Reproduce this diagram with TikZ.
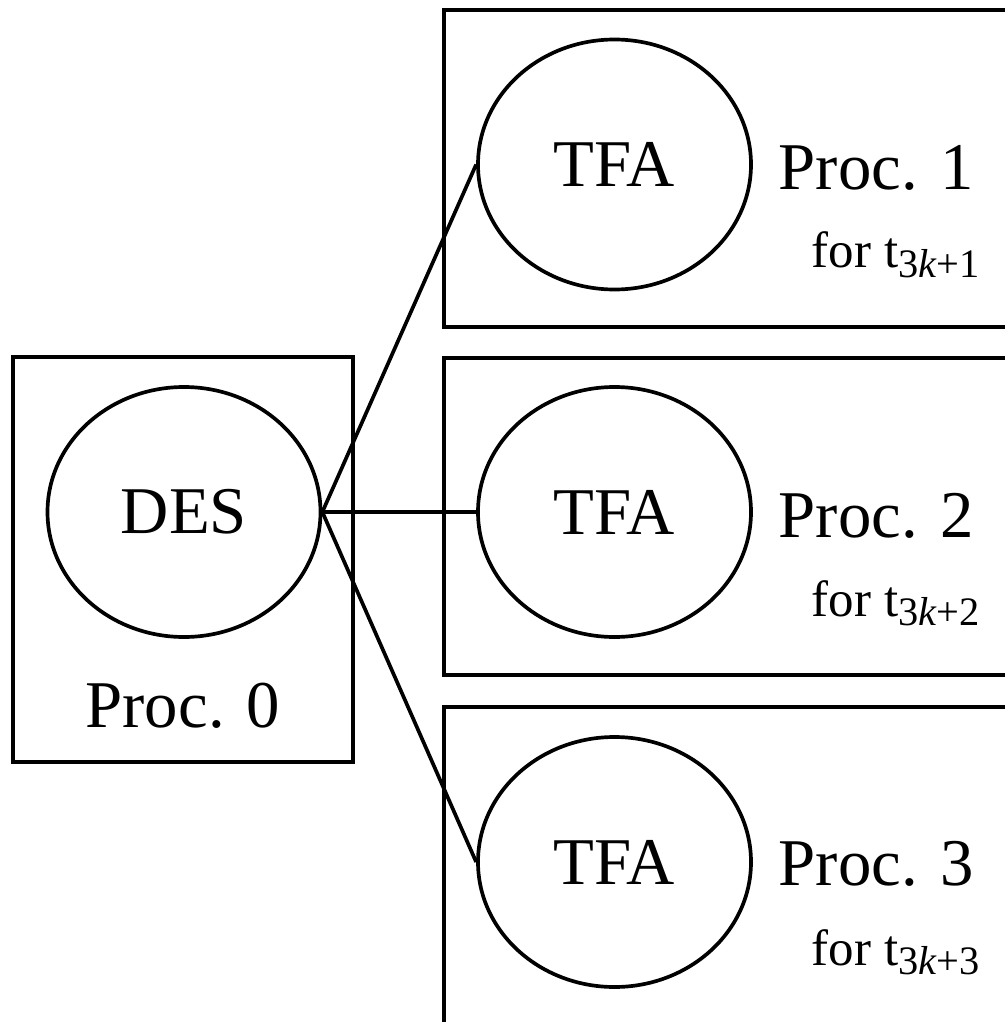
\documentclass[tikz,border=0pt]{standalone}
\usepackage{fontspec}
\setmainfont{Liberation Serif}
\newfontfamily\timesfont{Liberation Serif}
\usetikzlibrary{shapes.geometric}

\newcommand{\bigtxt}{\timesfont\fontsize{19pt}{23pt}\selectfont}
\newcommand{\smalltxt}{\timesfont\fontsize{14.5pt}{17pt}\selectfont}
\newcommand{\tidx}[1]{t\raisebox{-2.8pt}{\fontsize{11.5pt}{13pt}\selectfont #1}}

\begin{document}
\begin{tikzpicture}[-,line width=1.05pt,
  main node/.style={ellipse,draw,minimum width=2.73cm,minimum height=2.5cm,inner sep=0pt,font=\bigtxt},
  proc box/.style={rectangle,draw,inner sep=0pt},
  proc label/.style={inner sep=0pt,font=\bigtxt},
  for label/.style={inner sep=0pt,anchor=base west,font=\smalltxt}]

  \clip (0,0) rectangle (10.05,-10.22);

  % process boxes
  \node[proc box, minimum width=3.4cm, minimum height=4.05cm] (box0) at (1.83,-5.595) {};
  \node[proc box, minimum width=6.16cm, minimum height=3.17cm] (box1) at (7.52,-1.685) {};
  \node[proc box, minimum width=6.16cm, minimum height=3.17cm] (box2) at (7.52,-5.165) {};
  \node[proc box, minimum width=6.16cm, minimum height=3.17cm] (box3) at (7.52,-8.655) {};

  % tasks
  \node[main node] (des) at (1.84,-5.12) {DES};
  \node[main node] (tfa1) at (6.145,-1.645) {TFA};
  \node[main node] (tfa2) at (6.145,-5.12) {TFA};
  \node[main node] (tfa3) at (6.145,-8.62) {TFA};

  % labels
  \node[proc label, anchor=base] (p0) at (1.83,-7.27) {Proc. 0};
  \node[proc label, anchor=base west] (p1) at (7.77,-1.90) {Proc. 1};
  \node[proc label, anchor=base west] (p2) at (7.77,-5.375) {Proc. 2};
  \node[proc label, anchor=base west] (p3) at (7.77,-8.855) {Proc. 3};
  \node[for label] (f1) at (8.10,-2.68) {for \tidx{3\textit{k}+1}};
  \node[for label] (f2) at (8.10,-6.16) {for \tidx{3\textit{k}+2}};
  \node[for label] (f3) at (8.10,-9.65) {for \tidx{3\textit{k}+3}};

  \path
    (des.east) edge (tfa1.west)
    (des.east) edge (tfa2.west)
    (des.east) edge (tfa3.west);
\end{tikzpicture}
\end{document}
